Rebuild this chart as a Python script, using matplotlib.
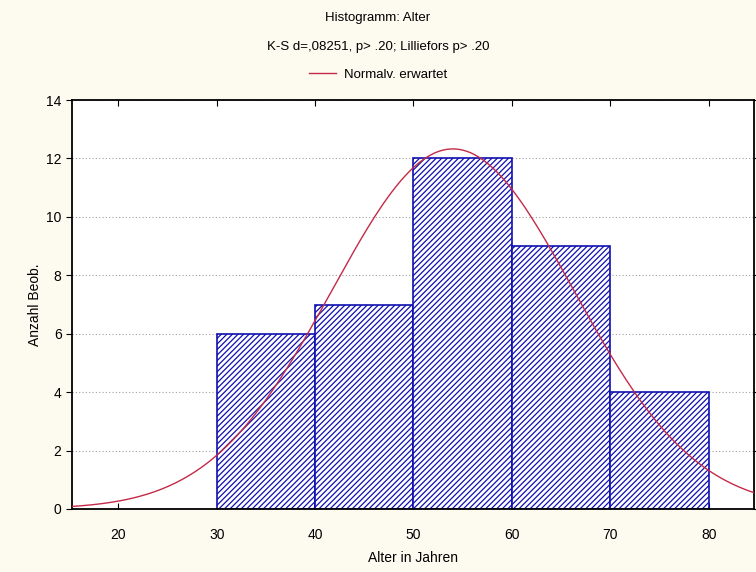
import numpy as np
import matplotlib.pyplot as plt
from matplotlib.lines import Line2D

# histogram data
bin_edges = [30, 40, 50, 60, 70, 80]
counts = [6, 7, 12, 9, 4]
# fitted normal curve (expected counts per 10-year class)
mean_age = 54.0
sd_age = 12.3
n_obs = sum(counts)
bin_width = 10

x_ticks = [20, 30, 40, 50, 60, 70, 80]
y_ticks = [0, 2, 4, 6, 8, 10, 12, 14]

plt.rcParams['font.family'] = ['Liberation Sans', 'DejaVu Sans']
plt.rcParams['hatch.color'] = '#1a1a5a'
plt.rcParams['hatch.linewidth'] = 0.9

fig = plt.figure(figsize=(7.56, 5.72), dpi=100, facecolor='#fdfaf0')
ax = fig.add_axes([72 / 756, 63 / 572, (754 - 72) / 756, (509 - 100) / 572])
ax.set_facecolor('white')

# bars
lefts = bin_edges[:-1]
widths = np.diff(bin_edges)
ax.bar(lefts, counts, width=widths, align='edge', facecolor='white',
       edgecolor='#1010b0', linewidth=1.2, hatch='//////', zorder=2)

# normal curve
xs = np.linspace(15, 85, 300)
ys = n_obs * bin_width * np.exp(-0.5 * ((xs - mean_age) / sd_age) ** 2) / (sd_age * np.sqrt(2 * np.pi))
ax.plot(xs, ys, color='#c42a48', linewidth=1.0, zorder=3)

ax.set_xlim(15.3, 84.6)
ax.set_ylim(0, 14)
ax.set_xticks(x_ticks)
ax.set_yticks(y_ticks)
ax.yaxis.grid(True, linestyle=(0, (1, 2)), color='#a0a0a0', linewidth=0.8, zorder=0)
ax.tick_params(axis='x', direction='in', top=True, labelsize=10, pad=14, length=4)
ax.tick_params(axis='y', direction='out', right=True, labelsize=10, length=4)
for s in ax.spines.values():
    s.set_linewidth(1.3)

ax.set_xlabel('Alter in Jahren', fontsize=10, labelpad=6)
ax.set_ylabel('Anzahl Beob.', fontsize=10, labelpad=3)

fig.text(0.5, 1 - 18 / 572, 'Histogramm: Alter', ha='center', va='center', fontsize=9.5)
fig.text(0.5, 1 - 47 / 572, 'K-S d=,08251, p> .20; Lilliefors p> .20', ha='center',
         va='center', fontsize=9.5)
handle = Line2D([], [], color='#c42a48', linewidth=1.0)
fig.legend([handle], ['Normalv. erwartet'], loc='center', bbox_to_anchor=(0.5, 1 - 75 / 572),
           frameon=False, fontsize=9.5, handlelength=2.0, handletextpad=0.6)

fig.savefig('out.png', dpi=100, facecolor=fig.get_facecolor())
